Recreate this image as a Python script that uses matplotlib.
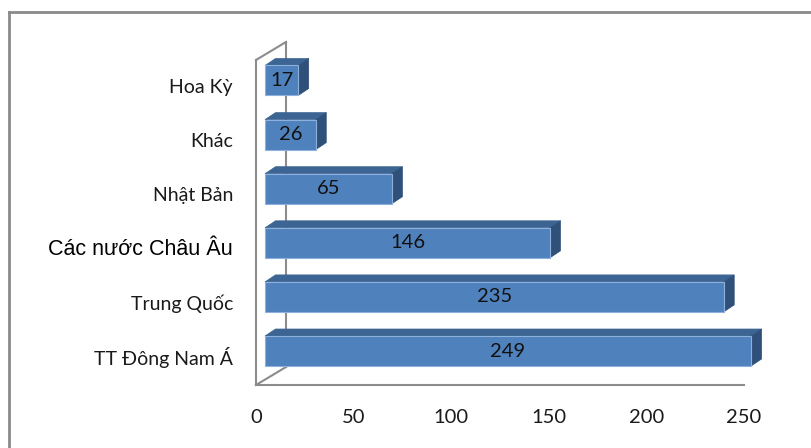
import matplotlib.pyplot as plt
from matplotlib.patches import Polygon, Rectangle
from matplotlib.lines import Line2D

# Data (bottom to top)
categories = ["TT Đông Nam Á", "Trung Quốc", "Các nước Châu Âu", "Nhật Bản", "Khác", "Hoa Kỳ"]
values = [249, 235, 146, 65, 26, 17]
ticks = [0, 50, 100, 150, 200, 250]

W, H = 812, 448
PX_X = 1.952   # pixels per value unit
PX_Y = 54.1    # pixels per category step
X0, Y0 = 256, 97  # pixel position of value 0 / first category


def ux(p):
    return p / PX_X


def uy(p):
    return p / PX_Y


def main():
    plt.rcParams["font.family"] = ["Lato", "DejaVu Sans"]
    fig = plt.figure(figsize=(W / 100, H / 100), dpi=100)
    ax = fig.add_axes([0, 0, 1, 1])
    ax.set_xlim(-ux(X0), ux(W - X0))
    ax.set_ylim(-uy(Y0), uy(H - Y0))
    ax.axis("off")

    # outer chart frame
    fig.add_artist(Line2D([9 / W, 9 / W], [0, 1 - 12 / H], transform=fig.transFigure,
                          color="#8a8a8a", lw=2))
    fig.add_artist(Line2D([9 / W, 1], [1 - 12 / H, 1 - 12 / H], transform=fig.transFigure,
                          color="#8a8a8a", lw=2))

    # 3D walls
    wall = "#8c8c8c"
    y_floor = uy(-34)
    y_top = uy(291)
    dx, dy = ux(30), uy(18)
    ax.plot([0, 0], [y_floor, y_top], color=wall, lw=1.5, zorder=1)
    ax.plot([0, dx], [y_top, y_top + dy], color=wall, lw=1.5, zorder=1)
    ax.plot([dx, dx], [y_top + dy, y_floor + dy], color=wall, lw=1.5, zorder=1)
    ax.plot([0, dx], [y_floor, y_floor + dy], color=wall, lw=1.5, zorder=1)
    ax.plot([0, ticks[-1]], [y_floor, y_floor], color=wall, lw=1.5, zorder=1)

    # bars
    off = ux(9)
    h = uy(15)
    bdx, bdy = ux(10.5), uy(7)
    for i, (cat, v) in enumerate(zip(categories, values)):
        front = Rectangle((off, i - h), v, 2 * h, facecolor="#4f81bd",
                          edgecolor="#8db0dc", lw=0.8, zorder=3)
        top = Polygon([(off, i + h), (off + v, i + h), (off + v + bdx, i + h + bdy),
                       (off + bdx, i + h + bdy)], closed=True,
                      facecolor="#3d6593", edgecolor="#3d6593", lw=0.5, zorder=2)
        side = Polygon([(off + v, i - h), (off + v + bdx, i - h + bdy),
                        (off + v + bdx, i + h + bdy), (off + v, i + h)], closed=True,
                       facecolor="#2f5079", edgecolor="#2f5079", lw=0.5, zorder=2)
        ax.add_patch(top)
        ax.add_patch(side)
        ax.add_patch(front)
        ax.text(off + v / 2, i, str(v), ha="center", va="center",
                fontsize=14.5, color="#111111", zorder=4)

        if cat == "Các nước Châu Âu":
            ax.text(ux(-23), i - uy(6.5), cat, ha="right", va="center",
                    fontsize=15.5, color="#000000",
                    family=["Liberation Sans", "DejaVu Sans"])
        else:
            ax.text(ux(-23), i - uy(6.5), cat, ha="right", va="center",
                    fontsize=14, color="#1a1a1a")

    # value axis labels
    for t in ticks:
        ax.text(t, uy(-66), str(t), ha="center", va="center",
                fontsize=14.5, color="#1a1a1a")

    fig.savefig("out.png", dpi=100)


if __name__ == "__main__":
    main()
